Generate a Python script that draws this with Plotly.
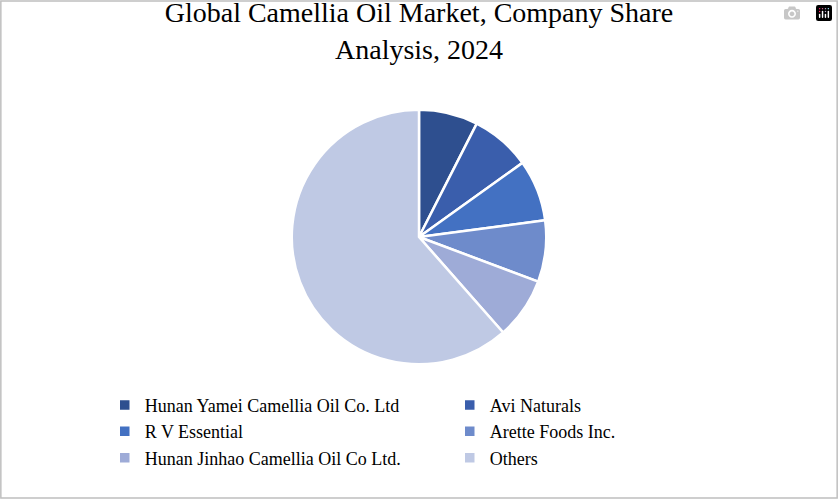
import plotly.graph_objects as go

companies = ["Hunan Yamei Camellia Oil Co. Ltd", "Avi Naturals", "R V Essential",
             "Arette Foods Inc.", "Hunan Jinhao Camellia Oil Co Ltd.", "Others"]
shares = [7.5, 7.6, 7.8, 7.8, 7.8, 61.5]
colors = ["#2E4F8F", "#3A5EAC", "#4371C2", "#6E8BCB", "#9EABD7", "#BFC9E4"]

fig = go.Figure(go.Pie(
    labels=companies, values=shares, sort=False, direction="clockwise", rotation=0,
    marker=dict(colors=colors, line=dict(color="white", width=2.5)),
    textinfo="none", hoverinfo="label+percent",
    domain=dict(x=[0.3, 0.7], y=[0.27, 0.78]),
))

fig.update_layout(
    width=838, height=499,
    paper_bgcolor="white",
    font=dict(family="Liberation Serif, DejaVu Serif, serif", color="#000"),
    title=dict(text="Global Camellia Oil Market, Company Share<br>Analysis, 2024",
               x=0.5, xanchor="center", y=0.955, yanchor="top",
               font=dict(size=28, color="#000")),
    margin=dict(l=0, r=0, t=0, b=0),
    legend=dict(orientation="h", x=0.125, xanchor="left", y=0.225, yanchor="top",
                entrywidth=300, entrywidthmode="pixels",
                font=dict(size=18), traceorder="normal", itemwidth=30),
    shapes=[dict(type="rect", xref="paper", yref="paper", x0=0.001, y0=0.002, x1=0.999, y1=0.998,
                 line=dict(color="#BFBFBF", width=1.5))],
)

fig.write_html("out.html", post_script="document.body.style.margin='0';document.body.style.overflow='hidden';")
